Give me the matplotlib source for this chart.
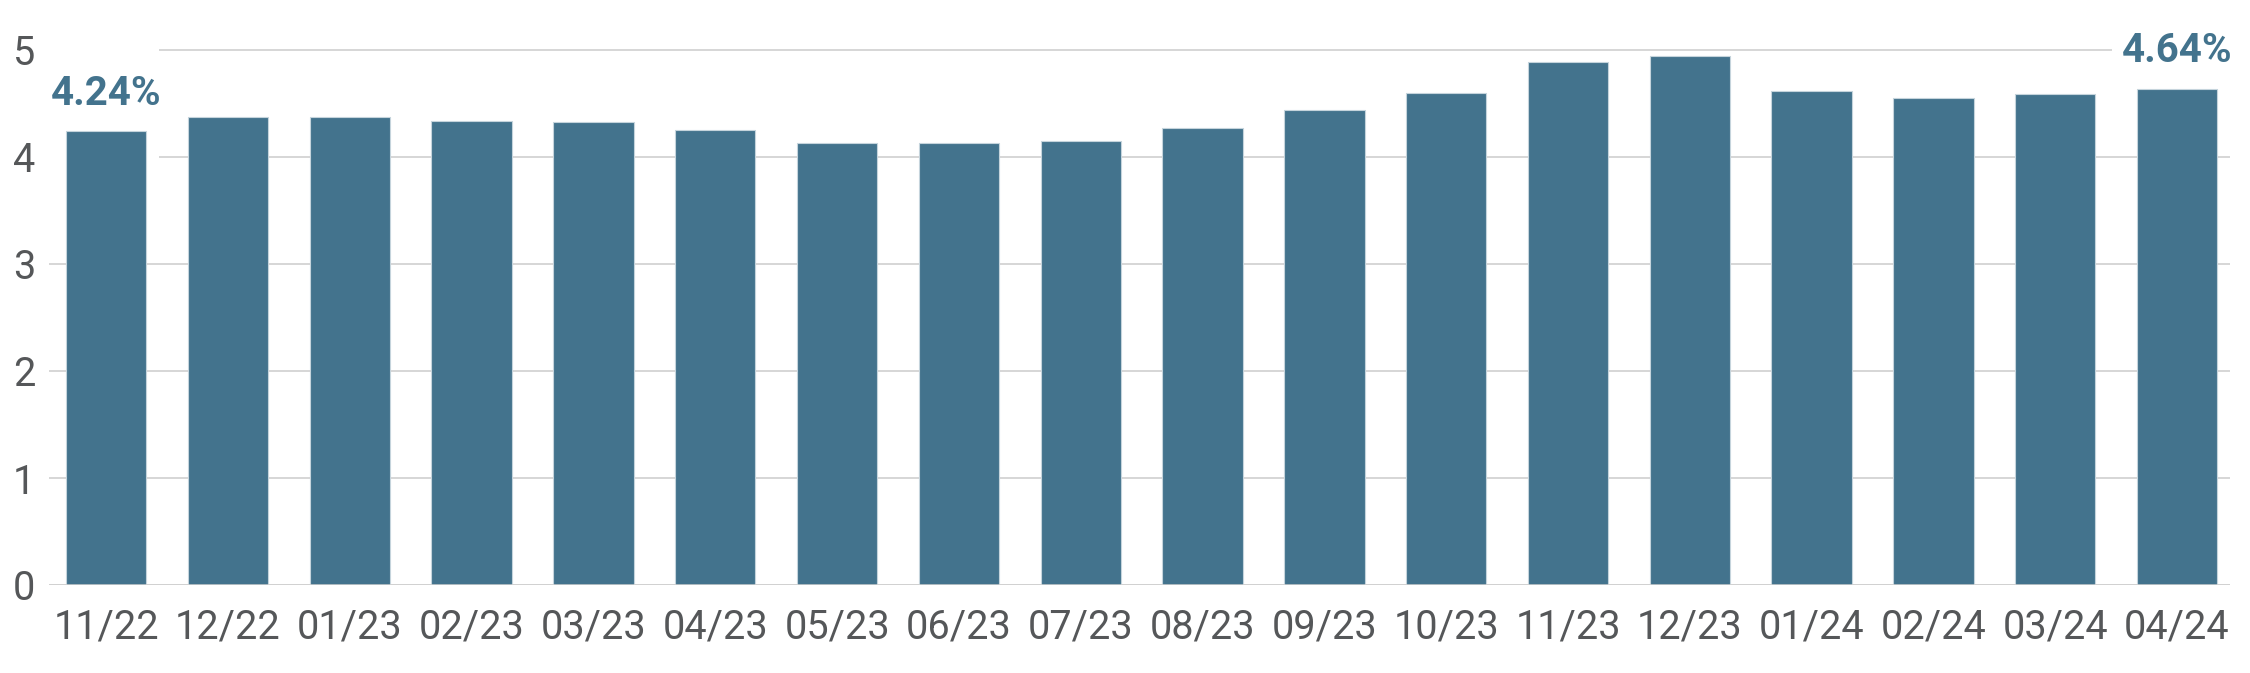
import matplotlib
matplotlib.use("Agg")
import matplotlib.pyplot as plt
from matplotlib.patches import Rectangle

categories = ["11/22", "12/22", "01/23", "02/23", "03/23", "04/23", "05/23", "06/23",
              "07/23", "08/23", "09/23", "10/23", "11/23", "12/23", "01/24", "02/24",
              "03/24", "04/24"]
values = [4.24, 4.37, 4.37, 4.34, 4.33, 4.25, 4.13, 4.13, 4.15, 4.27, 4.44, 4.60,
          4.89, 4.94, 4.62, 4.55, 4.59, 4.64]
yticks = [0, 1, 2, 3, 4, 5]
label_first = "4.24%"
label_last = "4.64%"

BAR = "#43738d"
GRID = "#d0d0d0"
TXT = "#555759"

plt.rcParams['font.family'] = ['Roboto', 'DejaVu Sans']

fig = plt.figure(figsize=(22.5, 6.73), dpi=100)
ax = fig.add_axes([49/2250, 1-585/673, (2230-49)/2250, 5.3*107/673])

x = list(range(len(categories)))
ax.bar(x, values, width=0.66, color=BAR, edgecolor="#c5d4dc", linewidth=0.8, zorder=3)

ax.set_xlim(-0.47, len(categories) - 1 + 0.435)
ax.set_ylim(0, 5.3)
ax.set_yticks(yticks)
ax.set_yticklabels([str(t) for t in yticks])
ax.set_xticks(x)
ax.set_xticklabels(categories)
ax.tick_params(axis='x', length=0, pad=16, labelsize=28.5, labelcolor=TXT)
ax.tick_params(axis='y', length=0, pad=10, labelsize=28.5, labelcolor=TXT)
for s in ax.spines.values():
    s.set_visible(False)
ax.yaxis.grid(True, color=GRID, linewidth=1.2, zorder=0)
ax.set_axisbelow(True)
ax.axhline(0, color=GRID, linewidth=1.8, zorder=4)

# white mask behind first label (hides gridlines there)
ax.add_patch(Rectangle((x[0] - 0.47, 3.5), 0.9, 1.7, facecolor="white",
                       edgecolor="none", zorder=1))

ax.annotate(label_first, (x[0], values[0]), xytext=(0, 19), textcoords="offset points",
            ha="center", va="baseline", fontsize=29, fontweight="bold", color=BAR, zorder=5)
ax.annotate(label_last, (x[-1], values[-1]), xytext=(0, 19), textcoords="offset points",
            ha="center", va="baseline", fontsize=29, fontweight="bold", color=BAR, zorder=5,
            annotation_clip=False,
            bbox=dict(boxstyle="square,pad=0.25", facecolor="white", edgecolor="none"))

fig.savefig("out.png", dpi=100, facecolor="white")
